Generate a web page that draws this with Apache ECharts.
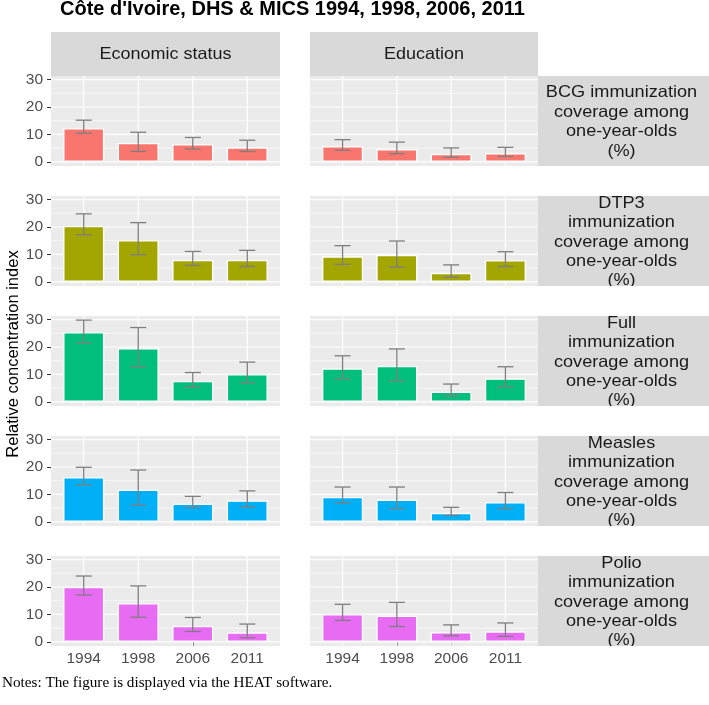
<!DOCTYPE html>
<html>
<head>
<meta charset="utf-8">
<script src="https://cdn.jsdelivr.net/npm/echarts@6/dist/echarts.min.js"></script>
<style>
html,body{margin:0;padding:0;background:#fff;}
#chart{width:709px;height:705px;}
</style>
</head>
<body>
<div id="chart"></div>
<script>
// ---------- data ----------
const years = ['1994', '1998', '2006', '2011'];
const dimensions = ['Economic status', 'Education'];
const indicators = [
  'BCG immunization\ncoverage among\none-year-olds\n(%)',
  'DTP3\nimmunization\ncoverage among\none-year-olds\n(%)',
  'Full\nimmunization\ncoverage among\none-year-olds\n(%)',
  'Measles\nimmunization\ncoverage among\none-year-olds\n(%)',
  'Polio\nimmunization\ncoverage among\none-year-olds\n(%)'
];
const yTicks = [0, 10, 20, 30];

const bcgEcon = [12.3, 6.9, 6.4, 5.3];
const bcgEconLow = [10.5, 3.8, 4.7, 3.8];
const bcgEconHigh = [15.2, 10.8, 8.9, 7.9];
const bcgEdu = [5.7, 4.6, 2.9, 3.2];
const bcgEduLow = [4.2, 3.0, 1.7, 2.0];
const bcgEduHigh = [8.1, 7.2, 5.1, 5.3];

const dtpEcon = [20.4, 15.2, 8.0, 8.0];
const dtpEconLow = [17.2, 9.9, 6.0, 5.6];
const dtpEconHigh = [24.8, 21.6, 11.1, 11.5];
const dtpEdu = [9.3, 9.8, 3.3, 7.9];
const dtpEduLow = [6.4, 5.4, 1.7, 5.6];
const dtpEduHigh = [13.2, 14.9, 6.2, 11.0];

const fullEcon = [25.4, 19.6, 7.6, 10.1];
const fullEconLow = [21.4, 12.8, 5.5, 7.0];
const fullEconHigh = [29.8, 27.1, 10.7, 14.5];
const fullEdu = [12.2, 13.1, 3.7, 8.5];
const fullEduLow = [8.5, 7.8, 2.2, 5.6];
const fullEduHigh = [16.8, 19.3, 6.5, 12.8];

const measEcon = [16.3, 11.7, 6.6, 7.8];
const measEconLow = [13.5, 6.0, 5.2, 5.5];
const measEconHigh = [19.9, 18.9, 9.3, 11.3];
const measEdu = [9.1, 8.1, 3.3, 7.2];
const measEduLow = [6.8, 4.9, 2.3, 4.9];
const measEduHigh = [12.7, 12.7, 5.3, 10.7];

const polEcon = [20.0, 14.1, 5.8, 3.4];
const polEconLow = [17.1, 9.0, 3.8, 1.5];
const polEconHigh = [24.0, 20.4, 8.9, 6.5];
const polEdu = [10.1, 9.5, 3.5, 3.8];
const polEduLow = [7.8, 5.6, 2.2, 2.0];
const polEduHigh = [13.7, 14.4, 6.2, 6.9];

// ---------- assembly ----------
const panels = [
  [[bcgEcon, bcgEconLow, bcgEconHigh], [bcgEdu, bcgEduLow, bcgEduHigh]],
  [[dtpEcon, dtpEconLow, dtpEconHigh], [dtpEdu, dtpEduLow, dtpEduHigh]],
  [[fullEcon, fullEconLow, fullEconHigh], [fullEdu, fullEduLow, fullEduHigh]],
  [[measEcon, measEconLow, measEconHigh], [measEdu, measEduLow, measEduHigh]],
  [[polEcon, polEconLow, polEconHigh], [polEdu, polEduLow, polEduHigh]]
];
const colors = ['#F8766D', '#A3A500', '#00BF7D', '#00B0F6', '#E76BF3'];
const FONT = "'Liberation Sans', Arial, Helvetica, sans-serif";

const colLeft = [51, 310];
const colWidth = [229, 228];
const rowTop0 = 76, rowStep = 120, rowH = 90;
const stripX = 538, stripW = 171;
const xPos = years.map((_, i) => i + 1);

const grids = [], xAxes = [], yAxes = [], series = [];
const graphics = [];

// grid-line items: [kind, value]; kind 0 = major horizontal, 1 = minor horizontal, 2 = vertical
const gridLineData = [];
yTicks.forEach(v => gridLineData.push([0, v]));
for (let i = 0; i < yTicks.length - 1; i++) gridLineData.push([1, (yTicks[i] + yTicks[i + 1]) / 2]);
xPos.forEach(v => gridLineData.push([2, v]));

for (let r = 0; r < panels.length; r++) {
  for (let c = 0; c < 2; c++) {
    const gi = grids.length;
    const isBottom = r === panels.length - 1;
    const isLeft = c === 0;
    grids.push({
      left: colLeft[c], width: colWidth[c], top: rowTop0 + r * rowStep, height: rowH,
      show: true, backgroundColor: '#EBEBEB', borderWidth: 0, containLabel: false
    });
    xAxes.push({
      gridIndex: gi, type: 'value', min: 0.4, max: 4.6,
      axisLine: { show: false }, splitLine: { show: false },
      axisTick: { show: isBottom, customValues: xPos, length: 4, lineStyle: { color: '#333333', width: 1 } },
      axisLabel: { show: isBottom, customValues: xPos, margin: 5, color: '#4D4D4D', fontSize: 15.5, fontFamily: FONT,
        formatter: v => years[Math.round(v) - 1] }
    });
    yAxes.push({
      gridIndex: gi, type: 'value', min: -1.5, max: 31.3,
      axisLine: { show: false }, splitLine: { show: false },
      axisTick: { show: isLeft, customValues: yTicks, length: 4, lineStyle: { color: '#333333', width: 1 } },
      axisLabel: { show: isLeft, customValues: yTicks, margin: 8, color: '#4D4D4D', fontSize: 15.5, fontFamily: FONT }
    });
    const [vals, lows, highs] = panels[r][c];
    series.push({
      type: 'custom', xAxisIndex: gi, yAxisIndex: gi, z: 1, silent: true,
      data: gridLineData,
      renderItem: function (params, api) {
        const cs = params.coordSys;
        const kind = api.value(0), v = api.value(1);
        if (kind === 2) {
          const x = api.coord([v, 0])[0];
          return { type: 'line', shape: { x1: x, y1: cs.y, x2: x, y2: cs.y + cs.height },
            style: { stroke: '#FFFFFF', lineWidth: 1.2 } };
        }
        const y = api.coord([1, v])[1];
        return { type: 'line', shape: { x1: cs.x, y1: y, x2: cs.x + cs.width, y2: y },
          style: { stroke: '#FFFFFF', lineWidth: kind === 0 ? 1.2 : 0.6 } };
      }
    });
    series.push({
      type: 'bar', xAxisIndex: gi, yAxisIndex: gi, z: 2, barWidth: 41,
      data: vals.map((v, i) => [xPos[i], v]),
      itemStyle: { color: colors[r], borderColor: '#FFFFFF', borderWidth: 1.3 }
    });
    series.push({
      type: 'custom', xAxisIndex: gi, yAxisIndex: gi, z: 3, silent: true,
      encode: { x: 0, y: [1, 2] },
      data: lows.map((lo, i) => [xPos[i], lo, highs[i]]),
      renderItem: function (params, api) {
        const x = api.value(0);
        const p1 = api.coord([x, api.value(1)]);
        const p2 = api.coord([x, api.value(2)]);
        const w = 8;
        const st = { stroke: '#7F7F7F', lineWidth: 1.3 };
        return { type: 'group', children: [
          { type: 'line', shape: { x1: p1[0], y1: p1[1], x2: p2[0], y2: p2[1] }, style: st },
          { type: 'line', shape: { x1: p1[0] - w, y1: p1[1], x2: p1[0] + w, y2: p1[1] }, style: st },
          { type: 'line', shape: { x1: p2[0] - w, y1: p2[1], x2: p2[0] + w, y2: p2[1] }, style: st }
        ] };
      }
    });
  }
  // right strip
  const top = rowTop0 + r * rowStep;
  graphics.push({ type: 'rect', z: 10, shape: { x: stripX, y: top, width: stripW, height: rowH }, style: { fill: '#D9D9D9' } });
  graphics.push({ type: 'text', z: 11, x: stripX + stripW / 2 - 2, y: top + rowH / 2 + 1, scaleX: 1.1, style: {
    text: indicators[r], x: 0, y: 0,
    textAlign: 'center', textVerticalAlign: 'middle', font: '16.5px ' + FONT, lineHeight: 19.4, fill: '#1A1A1A' } });
  // white cover for text overflow below this strip
  graphics.push({ type: 'rect', z: 12, shape: { x: stripX, y: top + rowH, width: stripW, height: rowStep - rowH }, style: { fill: '#FFFFFF' } });
}
graphics.push({ type: 'rect', z: 12, shape: { x: stripX, y: 40, width: stripW, height: rowTop0 - 40 }, style: { fill: '#FFFFFF' } });

// top strips
for (let c = 0; c < 2; c++) {
  graphics.push({ type: 'rect', z: 10, shape: { x: colLeft[c], y: 32, width: colWidth[c], height: 44 }, style: { fill: '#D9D9D9' } });
  graphics.push({ type: 'text', z: 11, x: colLeft[c] + colWidth[c] / 2, y: 54, scaleX: 1.09, style: {
    text: dimensions[c], x: 0, y: 0,
    textAlign: 'center', textVerticalAlign: 'middle', font: '16.5px ' + FONT, fill: '#1A1A1A' } });
}
// title
graphics.push({ type: 'text', z: 11, style: {
  text: "Côte d'Ivoire, DHS & MICS 1994, 1998, 2006, 2011", x: 60, y: 9,
  textAlign: 'left', textVerticalAlign: 'middle', font: 'bold 20px ' + FONT, fill: '#000000' } });
// y axis title
graphics.push({ type: 'text', z: 11, rotation: Math.PI / 2, x: 13, y: 354, style: {
  text: 'Relative concentration index', x: 0, y: 0,
  textAlign: 'center', textVerticalAlign: 'middle', font: '16.5px ' + FONT, fill: '#000000' } });
// notes
graphics.push({ type: 'text', z: 11, style: {
  text: 'Notes: The figure is displayed via the HEAT software.', x: 2, y: 683,
  textAlign: 'left', textVerticalAlign: 'middle', font: "15.2px 'Liberation Serif', 'Times New Roman', serif", fill: '#000000' } });

const chart = echarts.init(document.getElementById('chart'), null, { renderer: 'canvas' });
chart.setOption({
  animation: false,
  backgroundColor: '#FFFFFF',
  grid: grids,
  xAxis: xAxes,
  yAxis: yAxes,
  series: series,
  graphic: { elements: graphics }
});
</script>
</body>
</html>
